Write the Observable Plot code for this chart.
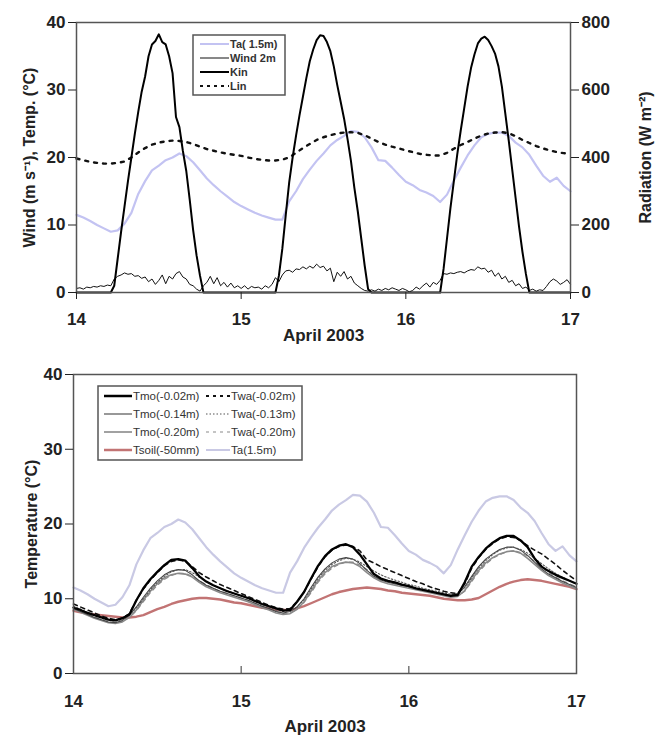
<!DOCTYPE html>
<html><head><meta charset="utf-8">
<script src="https://cdn.jsdelivr.net/npm/d3@7"></script>
<script src="https://cdn.jsdelivr.net/npm/@observablehq/plot@0.6"></script>
<style>
body{margin:0;background:#fff;font-family:"Liberation Sans",Arial,sans-serif}
#wrap{position:relative;width:660px;height:735px;overflow:hidden}
#wrap svg.leg{position:absolute}
</style>
</head><body><div id="wrap"><div id="topPanel"></div><div id="botPanel"></div></div>
<script>
// ---------- data ----------
const xTicks = [14, 15, 16, 17];
const yTicks = [0, 10, 20, 30, 40];
const radTicks = [0, 200, 400, 600, 800];
const xLabel = "April 2003";

// hourly series (14.0 .. 17.0 every hour)
const taHourly = [11.5,11.1,10.6,10.0,9.5,9.0,9.2,10.2,11.8,14.6,16.5,18.1,18.8,19.6,20.0,20.6,20.2,19.3,18.1,16.9,15.9,15.0,14.2,13.4,
 12.8,12.3,11.8,11.4,11.1,10.8,10.8,13.5,15.0,16.8,18.2,19.5,20.6,21.8,22.6,23.2,23.9,23.8,23.0,21.5,19.6,19.5,18.5,17.4,
 16.4,15.9,15.2,14.8,14.3,13.4,14.5,16.6,18.5,20.3,21.8,23.0,23.5,23.7,23.7,23.2,22.2,21.5,20.4,18.8,17.3,16.4,17.0,15.8,15.0];
const linHourly = [397,392,387,384,382,382,384,388,400,415,428,438,444,448,450,449,446,440,432,425,420,415,411,408,
 405,400,396,393,391,391,394,400,414,428,440,452,460,466,471,474,475,473,466,456,446,438,432,427,
 421,416,411,408,406,406,414,426,437,446,456,465,471,474,475,472,463,452,443,434,427,421,416,413,410];
const tsoil = [8.4,8.2,8.0,7.9,7.8,7.7,7.6,7.5,7.5,7.6,7.8,8.2,8.6,8.9,9.3,9.6,9.8,10.0,10.1,10.1,10.0,9.9,9.7,9.5,
 9.4,9.2,9.0,8.8,8.7,8.5,8.5,8.5,8.7,9.0,9.4,9.8,10.2,10.6,10.9,11.1,11.3,11.4,11.5,11.4,11.3,11.1,11.0,10.8,
 10.7,10.6,10.5,10.4,10.2,10.0,9.9,9.8,9.8,9.9,10.1,10.6,11.1,11.6,12.0,12.3,12.5,12.6,12.5,12.4,12.2,12.0,11.8,11.6,11.3];
const tmo002 = [8.8,8.5,8.1,7.8,7.5,7.2,7.1,7.4,7.9,9.8,11.4,12.6,13.6,14.5,15.2,15.3,15.1,14.1,13.0,12.3,11.8,11.4,11.0,10.7,
 10.4,10.1,9.7,9.3,9.0,8.7,8.4,8.5,9.6,10.9,12.7,14.4,15.7,16.6,17.1,17.3,16.9,15.9,14.6,13.3,12.7,12.4,12.2,11.9,
 11.7,11.4,11.2,11.0,10.8,10.6,10.4,10.5,12.2,14.3,15.6,16.7,17.5,18.1,18.4,18.4,17.8,16.9,15.4,14.3,13.7,13.2,12.8,12.4,12.0];
const tmo014 = [8.7,8.3,7.9,7.5,7.2,6.9,6.8,7.1,7.8,8.9,10.2,11.4,12.4,13.2,13.7,13.9,13.8,13.2,12.4,11.8,11.4,11.0,10.7,10.4,
 10.1,9.8,9.4,9.0,8.7,8.3,8.1,8.3,8.9,10.0,11.5,12.9,14.0,14.8,15.3,15.5,15.3,14.7,13.8,13.0,12.5,12.2,12.0,11.8,
 11.6,11.4,11.2,11.0,10.8,10.6,10.4,10.6,11.6,13.0,14.3,15.3,16.0,16.6,16.9,16.9,16.5,15.8,14.9,14.0,13.3,12.8,12.3,11.9,11.5];
const tmo020 = [8.6,8.2,7.8,7.4,7.1,6.8,6.7,6.9,7.5,8.5,9.8,11.0,12.0,12.8,13.2,13.4,13.3,12.9,12.2,11.6,11.2,10.8,10.5,10.2,
 9.9,9.6,9.2,8.8,8.5,8.1,7.9,8.0,8.6,9.6,11.0,12.4,13.5,14.3,14.7,14.9,14.8,14.3,13.5,12.8,12.3,12.0,11.8,11.6,
 11.4,11.2,11.0,10.8,10.6,10.4,10.2,10.3,11.1,12.5,13.8,14.8,15.5,16.0,16.3,16.4,16.1,15.4,14.6,13.8,13.1,12.6,12.1,11.7,11.3];
const twa002 = [9.3,8.9,8.5,8.1,7.7,7.4,7.2,7.4,8.0,9.8,11.3,12.5,13.5,14.4,15.0,15.2,15.0,14.3,13.5,12.9,12.4,11.9,11.5,11.1,
 10.7,10.3,9.9,9.5,9.1,8.8,8.6,8.7,9.6,10.9,12.6,14.3,15.6,16.5,17.0,17.2,17.0,16.4,15.2,14.8,14.3,13.9,13.5,13.1,
 12.7,12.3,12.0,11.6,11.3,11.0,10.8,10.7,12.0,14.1,15.5,16.6,17.4,18.0,18.3,18.2,17.8,17.1,16.5,16.0,15.3,14.6,13.8,13.1,12.4];
const twa013 = [9.0,8.6,8.2,7.8,7.4,7.1,7.0,7.2,7.8,8.8,10.0,11.2,12.2,13.0,13.6,13.9,13.9,13.5,12.9,12.3,11.8,11.4,11.1,10.7,
 10.4,10.0,9.6,9.2,8.9,8.5,8.3,8.4,8.9,9.9,11.3,12.7,13.8,14.6,15.1,15.4,15.3,14.9,14.3,13.7,13.2,12.8,12.5,12.2,
 11.9,11.7,11.4,11.2,11.0,10.8,10.6,10.7,11.5,12.8,14.1,15.1,15.9,16.5,16.8,16.9,16.6,16.1,15.4,14.7,14.0,13.4,12.9,12.4,12.0];
const twa020 = [8.8,8.4,8.0,7.6,7.2,6.9,6.8,7.0,7.5,8.4,9.6,10.8,11.8,12.6,13.1,13.4,13.4,13.0,12.4,11.9,11.4,11.0,10.7,10.4,
 10.1,9.8,9.4,9.0,8.7,8.3,8.0,8.1,8.6,9.5,10.8,12.2,13.3,14.1,14.6,14.9,14.9,14.5,13.9,13.2,12.7,12.3,12.0,11.8,
 11.6,11.4,11.2,11.0,10.8,10.6,10.4,10.4,11.0,12.3,13.6,14.6,15.4,15.9,16.3,16.4,16.2,15.7,15.0,14.2,13.5,12.9,12.4,12.0,11.6];

// half-hourly series (14.0 .. 17.0 every 30 min)
const kinHalfHourly = [0,0,0,0,0,0,0,0,0,0,0,
 20,100,180,255,330,400,470,535,595,640,700,735,745,765,742,735,700,650,520,490,420,360,275,185,110,50,0,
 0,0,0,0,0,0,0,0,0,0,0,0,0,0,0,0,0,0,0,0,0,
 50,130,230,326,400,465,525,580,635,685,720,748,762,760,742,715,670,615,565,515,455,390,310,240,160,80,10,
 0,0,0,0,0,0,0,0,0,0,0,0,0,0,0,0,0,0,0,0,0,
 70,160,250,330,410,480,545,610,665,705,738,752,758,748,730,708,670,610,530,450,365,280,195,120,55,0,
 0,0,0,0,0,0,0,0,0,0,0,0];
const windHalfHourly = [0.6,0.7,0.5,0.8,0.7,0.9,0.8,1.0,0.9,1.1,1.0,2.0,2.4,2.6,2.9,2.7,2.8,2.4,2.5,2.1,2.3,1.6,2.0,1.2,
 1.8,2.6,1.3,2.4,2.0,2.8,3.1,2.3,2.0,1.2,1.0,0.5,0.2,1.0,1.5,2.4,1.3,2.2,1.0,1.5,0.8,1.4,0.7,1.0,
 0.6,1.0,0.5,0.9,0.7,0.8,0.5,1.0,0.7,1.2,2.2,1.6,2.6,3.2,3.3,3.0,3.5,3.4,3.8,3.5,3.9,3.6,4.2,3.7,
 3.9,3.2,3.6,1.6,3.0,2.4,3.1,2.0,2.4,1.4,1.0,0.6,0.3,0.2,0.4,0.2,0.5,0.3,0.6,0.4,0.7,0.5,0.3,0.6,
 0.4,0.1,0.3,0.8,0.5,1.0,1.4,0.8,1.5,1.2,1.8,2.8,2.7,2.9,2.8,3.0,3.1,2.9,3.2,3.4,3.3,3.8,3.5,3.6,
 3.0,3.3,2.4,2.9,2.0,2.4,1.5,1.8,1.0,1.3,0.6,0.8,0.3,0.5,0.2,0.4,0.3,0.9,1.6,2.0,1.7,1.2,1.5,1.9,1.2];

const dayH = d3.range(taHourly.length).map(i => 14 + i / 24);
const dayHH = d3.range(kinHalfHourly.length).map(i => 14 + i / 48);
const rows = (days, vals) => vals.map((v, i) => ({t: days[i], v}));

const FONT = "'Liberation Sans', Arial, sans-serif";
const TA_TOP = "#c3c3f2", TA_BOT = "#c9c9e4", SOIL = "#c27474";
const TICK_FS = 17, TITLE_FS = 16;

// ---------- top panel ----------
const topChart = Plot.plot({
  width: 660, height: 345,
  marginLeft: 76, marginRight: 90, marginTop: 22, marginBottom: 53,
  style: {fontFamily: FONT, fontSize: TICK_FS + "px", fontWeight: "bold", color: "#222", background: "#fff"},
  x: {domain: [14, 17]},
  y: {domain: [0, 40]},
  marks: [
    Plot.line(rows(dayH, taHourly), {x: "t", y: "v", stroke: TA_TOP, strokeWidth: 2.2}),
    Plot.line(rows(dayHH, windHalfHourly), {x: "t", y: "v", stroke: "#111", strokeWidth: 1}),
    Plot.line(rows(dayH, linHourly), {x: "t", y: d => d.v / 20, stroke: "#111", strokeWidth: 2.4, strokeDasharray: "3,6"}),
    Plot.line(rows(dayHH, kinHalfHourly), {x: "t", y: d => d.v / 20, stroke: "#000", strokeWidth: 2}),
    Plot.frame({stroke: "#555", strokeWidth: 1.5}),
    Plot.axisY({ticks: yTicks, tickSize: 8, tickPadding: 3, fontSize: TICK_FS, fontWeight: "bold", label: null}),
    Plot.axisY({ticks: [], label: "Wind (m s⁻¹), Temp. (°C)", labelAnchor: "center", labelOffset: 53, labelArrow: "none", fontSize: TITLE_FS, fontWeight: "bold"}),
    Plot.axisY({anchor: "right", ticks: radTicks.map(d => d / 20), tickFormat: d => d * 20, tickSize: 8, tickPadding: 3, fontSize: TICK_FS, fontWeight: "bold", label: null}),
    Plot.axisY({anchor: "right", ticks: [], label: "Radiation (W m⁻²)", labelAnchor: "center", labelOffset: 80, labelArrow: "none", fontSize: TITLE_FS, fontWeight: "bold"}),
    Plot.axisX({ticks: xTicks, tickSize: 7, tickPadding: 13, tickFormat: d => String(d), label: xLabel, labelAnchor: "center", labelOffset: 48, labelArrow: "none", fontSize: TICK_FS, fontWeight: "bold"})
  ]
});
document.getElementById("topPanel").appendChild(topChart);

// ---------- bottom panel ----------
const botChart = Plot.plot({
  width: 660, height: 390,
  marginLeft: 73, marginRight: 84, marginTop: 29, marginBottom: 62,
  style: {fontFamily: FONT, fontSize: TICK_FS + "px", fontWeight: "bold", color: "#222", background: "#fff"},
  x: {domain: [14, 17]},
  y: {domain: [0, 40]},
  marks: [
    Plot.line(rows(dayH, taHourly), {x: "t", y: "v", stroke: TA_BOT, strokeWidth: 2.2}),
    Plot.line(rows(dayH, tsoil), {x: "t", y: "v", stroke: SOIL, strokeWidth: 2.4}),
    Plot.line(rows(dayH, tmo020), {x: "t", y: "v", stroke: "#8a8a8a", strokeWidth: 1.6}),
    Plot.line(rows(dayH, twa020), {x: "t", y: "v", stroke: "#8a8a8a", strokeWidth: 1.2, strokeDasharray: "4,4"}),
    Plot.line(rows(dayH, tmo014), {x: "t", y: "v", stroke: "#444", strokeWidth: 1.1}),
    Plot.line(rows(dayH, twa013), {x: "t", y: "v", stroke: "#555", strokeWidth: 1.1, strokeDasharray: "1.5,2"}),
    Plot.line(rows(dayH, twa002), {x: "t", y: "v", stroke: "#111", strokeWidth: 1.6, strokeDasharray: "4,4"}),
    Plot.line(rows(dayH, tmo002), {x: "t", y: "v", stroke: "#000", strokeWidth: 2.3}),
    Plot.frame({stroke: "#555", strokeWidth: 1.5}),
    Plot.axisY({ticks: yTicks, tickSize: 8, tickPadding: 3, fontSize: TICK_FS, fontWeight: "bold", label: null}),
    Plot.axisY({ticks: [], label: "Temperature (°C)", labelAnchor: "center", labelOffset: 48, labelArrow: "none", fontSize: TITLE_FS, fontWeight: "bold"}),
    Plot.axisX({ticks: [15, 16], tickSize: -7, tickFormat: () => "", label: null, stroke: "#555", strokeWidth: 1.2}),
    Plot.axisX({ticks: xTicks, tickSize: 0, tickPadding: 21, tickFormat: d => String(d), label: xLabel, labelAnchor: "center", labelOffset: 58, labelArrow: "none", fontSize: TICK_FS, fontWeight: "bold"})
  ]
});
document.getElementById("botPanel").appendChild(botChart);

// ---------- legends ----------
function legend(box, items, fontWeight, fontSize) {
  const svg = d3.select("#wrap").append("svg").attr("class", "leg")
    .style("left", "0px").style("top", "0px").attr("width", 660).attr("height", 735);
  svg.append("rect").attr("x", box.x).attr("y", box.y).attr("width", box.w).attr("height", box.h)
    .attr("fill", "#fff").attr("stroke", "#555").attr("stroke-width", 1.5);
  for (const it of items) {
    svg.append("line").attr("x1", it.x1).attr("x2", it.x2).attr("y1", it.y).attr("y2", it.y)
      .attr("stroke", it.stroke).attr("stroke-width", it.w).attr("stroke-dasharray", it.dash || null);
    svg.append("text").attr("x", it.x2 + 1).attr("y", it.y).attr("dy", "0.35em")
      .attr("font-family", FONT).attr("font-size", fontSize).attr("font-weight", fontWeight)
      .attr("fill", "#333").text(it.label);
  }
}
legend({x: 193, y: 35, w: 92, h: 60}, [
  {label: "Ta( 1.5m)", y: 44, x1: 200, x2: 229, stroke: TA_TOP, w: 2},
  {label: "Wind 2m", y: 58, x1: 200, x2: 229, stroke: "#111", w: 1},
  {label: "Kin", y: 72, x1: 200, x2: 229, stroke: "#000", w: 2},
  {label: "Lin", y: 86, x1: 200, x2: 229, stroke: "#111", w: 2.2, dash: "3,4"}
], "bold", 11);
legend({x: 98, y: 386, w: 204, h: 74}, [
  {label: "Tmo(-0.02m)", y: 396, x1: 104, x2: 132, stroke: "#000", w: 2.5},
  {label: "Tmo(-0.14m)", y: 414, x1: 104, x2: 132, stroke: "#444", w: 1.1},
  {label: "Tmo(-0.20m)", y: 432, x1: 104, x2: 132, stroke: "#8a8a8a", w: 1.6},
  {label: "Tsoil(-50mm)", y: 450, x1: 104, x2: 132, stroke: SOIL, w: 2.5},
  {label: "Twa(-0.02m)", y: 396, x1: 206, x2: 230, stroke: "#111", w: 1.8, dash: "3,4"},
  {label: "Twa(-0.13m)", y: 414, x1: 206, x2: 230, stroke: "#555", w: 1.1, dash: "1.5,2"},
  {label: "Twa(-0.20m)", y: 432, x1: 206, x2: 230, stroke: "#8a8a8a", w: 1.2, dash: "3,4"},
  {label: "Ta(1.5m)", y: 450, x1: 206, x2: 230, stroke: TA_BOT, w: 2}
], "normal", 11.5);
</script>
</body></html>
